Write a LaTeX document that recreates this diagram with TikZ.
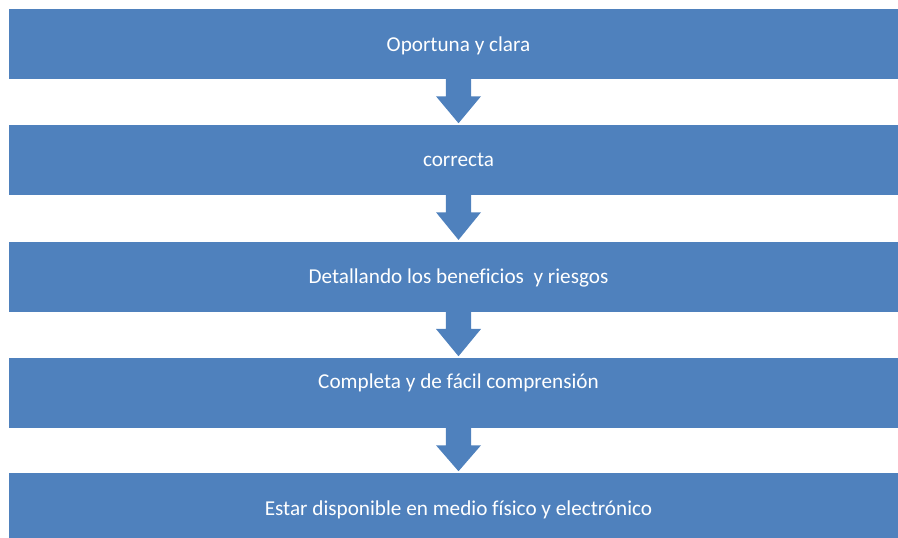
\documentclass[tikz,border=0pt]{standalone}
\usepackage{fontspec}
\setmainfont{Carlito}[Ligatures=NoCommon]
\usetikzlibrary{calc}
\definecolor{officeblue}{HTML}{4F81BD}
\tikzset{
  stepbox/.style={rectangle, fill=officeblue, draw=none, minimum width=674.25pt, minimum height=52.5pt, inner sep=0pt},
  steptext/.style={anchor=base, text=white, font=\fontsize{15.9pt}{18pt}\selectfont, inner sep=0pt},
  downarrow/.style={fill=officeblue}
}
\begin{document}
\begin{tikzpicture}[x=0.75pt, y=-0.75pt]
\useasboundingbox (0,0) rectangle (898,537);
\clip (0,0) rectangle (898,537);
\node[stepbox] (b1) at (458.5,44) {};
\node[stepbox] (b2) at (458.5,160) {};
\node[stepbox] (b3) at (458.5,276.7) {};
\node[stepbox] (b4) at (458.5,393) {};
\node[stepbox] (b5) at (458.5,508) {};
\node[steptext] (t1) at (458.5,51.7) {Oportuna y clara};
\node[steptext] (t2) at (458.5,166.7) {correcta};
\node[steptext] (t3) at (458.5,283) {Detallando los beneficios\ \ y riesgos};
\node[steptext] (t4) at (458.5,388.3) {Completa y de fácil comprensión};
\node[steptext] (t5) at (458.5,515) {Estar disponible en medio físico y electrónico};
\foreach \a/\b in {b1/b2, b2/b3, b3/b4, b4/b5}{
  \fill[downarrow] ($(\a.south)+(-12.7,-0.5)$) -- ($(\a.south)+(-12.7,17)$) -- ($(\a.south)+(-22.5,17)$)
    -- ($(\b.north)+(0,-1.5)$) -- ($(\a.south)+(22.5,17)$) -- ($(\a.south)+(12.7,17)$)
    -- ($(\a.south)+(12.7,-0.5)$) -- cycle;
}
\end{tikzpicture}
\end{document}
